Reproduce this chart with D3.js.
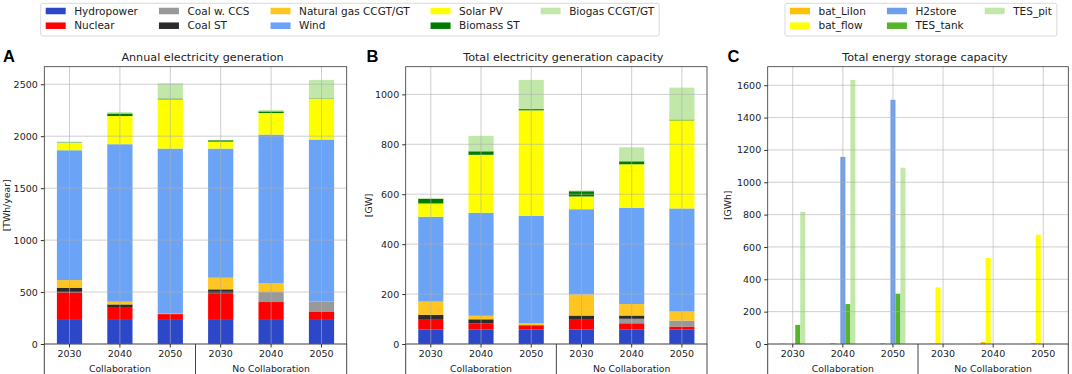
<!DOCTYPE html>
<html>
<head>
<meta charset="utf-8">
<script src="https://cdn.jsdelivr.net/npm/d3@7"></script>
<style>
  body { margin: 0; background: #fff; }
  svg { display: block; font-family: "DejaVu Sans", sans-serif; }
</style>
</head>
<body>
<svg id="chart" width="1072" height="374"></svg>
<script>
// scenarios along the x axis
const years = ["2030", "2040", "2050", "2030", "2040", "2050"];
const groups = ["Collaboration", "No Collaboration"];

const genTechs = ["Hydropower", "Nuclear", "Coal w. CCS", "Coal ST", "Natural gas CCGT/GT", "Wind", "Solar PV", "Biomass ST", "Biogas CCGT/GT"];
const genColors = ["#2c48c8", "#ff0000", "#999999", "#2b2b2b", "#ffc520", "#6ba3f7", "#ffff00", "#007a00", "#c1e8a9"];

// A: annual generation [TWh/year]
const genHydro   = [240, 240, 240, 240, 240, 240];
const genNuclear = [257, 116, 48, 247, 164, 68];
const genCoalCcs = [0, 0, 0, 0, 96, 102];
const genCoalSt  = [45, 25, 0, 39, 0, 0];
const genGas     = [73, 26, 4, 112, 83, 0];
const genWind    = [1250, 1516, 1589, 1243, 1433, 1558];
const genSolar   = [70, 271, 474, 67, 207, 393];
const genBiomass = [5, 25, 8, 13, 16, 4];
const genBiogas  = [8, 13, 147, 4, 13, 177];

// B: generation capacity [GW]
const capHydro   = [59, 59, 59, 59, 59, 59];
const capNuclear = [38, 24, 13, 38, 24, 11];
const capCoalCcs = [0, 0, 0, 0, 18, 24];
const capCoalSt  = [20, 16, 3, 17, 13, 0];
const capGas     = [53, 14, 8, 85, 46, 36];
const capWind    = [340, 413, 430, 341, 386, 413];
const capSolar   = [53, 232, 423, 51, 174, 353];
const capBiomass = [19, 14, 5, 21, 12, 3];
const capBiogas  = [3, 62, 117, 3, 56, 128];

// C: storage capacity [GWh]
const storeNames = ["bat_LiIon", "bat_flow", "H2store", "TES_tank", "TES_pit"];
const storeColors = ["#ffc000", "#ffff00", "#6d9eeb", "#56b42a", "#c1e8a9"];
const batLiIon = [3, 6, 6, 3, 12, 7];
const batFlow  = [0, 0, 0, 350, 532, 676];
const h2store  = [0, 1157, 1510, 0, 0, 0];
const tesTank  = [118, 247, 311, 0, 0, 0];
const tesPit   = [817, 1633, 1090, 0, 0, 0];

const ticksA = [0, 500, 1000, 1500, 2000, 2500];
const ticksB = [0, 200, 400, 600, 800, 1000];
const ticksC = [0, 200, 400, 600, 800, 1000, 1200, 1400, 1600];

const svg = d3.select("#chart");
const plotTop = 66.7, plotBottom = 344;

function panelBase(p) {
  const g = svg.append("g");
  const y = d3.scaleLinear().domain([0, p.ymax * 1.05]).range([plotBottom, plotTop]);
  const x = d3.scaleBand().domain(d3.range(6)).range([p.x0, p.x1]).paddingInner(0).paddingOuter(0);
  return { g, x, y };
}

function panelDecor(p, g, x, y) {
  const cx = i => x(i) + x.bandwidth() / 2;

  // grid drawn over bars, like the reference
  g.append("g").selectAll("line").data(p.ticks).join("line")
    .attr("x1", p.x0).attr("x2", p.x1)
    .attr("y1", d => y(d)).attr("y2", d => y(d))
    .attr("stroke", "#b0b0b0").attr("stroke-width", 0.8).attr("opacity", 0.75);
  g.append("g").selectAll("line").data(d3.range(6)).join("line")
    .attr("x1", cx).attr("x2", cx)
    .attr("y1", plotTop).attr("y2", plotBottom)
    .attr("stroke", "#b0b0b0").attr("stroke-width", 0.8).attr("opacity", 0.75);

  const yAxis = g.append("g").attr("transform", `translate(${p.x0},0)`)
    .call(d3.axisLeft(y).tickValues(p.ticks).tickFormat(d3.format("d")).tickSize(3.5).tickPadding(3));
  yAxis.select(".domain").remove();
  yAxis.selectAll("line").attr("stroke", "#333");
  yAxis.selectAll("text").attr("font-size", 9.5).attr("fill", "#222").attr("font-family", "DejaVu Sans");

  const xAxis = g.append("g").attr("transform", `translate(0,${plotBottom})`)
    .call(d3.axisBottom(x).tickFormat(i => years[i]).tickSize(3.5).tickPadding(3));
  xAxis.select(".domain").remove();
  xAxis.selectAll("line").attr("stroke", "#333");
  xAxis.selectAll("text").attr("font-size", 9.5).attr("fill", "#222").attr("font-family", "DejaVu Sans");

  // group separators and labels
  const sep = [p.x0, (cx(2) + cx(3)) / 2, p.x1];
  g.append("g").selectAll("line").data(sep).join("line")
    .attr("x1", d => d).attr("x2", d => d)
    .attr("y1", plotBottom).attr("y2", 374)
    .attr("stroke", "#444").attr("stroke-width", 1);
  g.append("g").selectAll("text").data(groups).join("text")
    .attr("x", (d, i) => cx(i * 3 + 1)).attr("y", 371.5)
    .attr("text-anchor", "middle").attr("font-size", 9.3).attr("fill", "#222")
    .text(d => d);

  // frame
  g.append("rect")
    .attr("x", p.x0).attr("y", plotTop)
    .attr("width", p.x1 - p.x0).attr("height", plotBottom - plotTop)
    .attr("fill", "none").attr("stroke", "#333").attr("stroke-width", 0.8);

  g.append("text")
    .attr("x", (p.x0 + p.x1) / 2 + 7).attr("y", 61)
    .attr("text-anchor", "middle").attr("font-size", 11.2).attr("fill", "#222")
    .text(p.title);

  g.append("text")
    .attr("transform", `translate(${p.ylabelX},${(plotTop + plotBottom) / 2}) rotate(-90)`)
    .attr("text-anchor", "middle").attr("dominant-baseline", "central")
    .attr("font-size", 9.3).attr("fill", "#222")
    .text(p.ylabel);

  g.append("text")
    .attr("x", p.letterX).attr("y", 62)
    .attr("font-family", "Liberation Sans, Arial, sans-serif")
    .attr("font-weight", "bold").attr("font-size", 16.5).attr("fill", "#000")
    .text(p.letter);
}

function stackedPanel(p) {
  const { g, x, y } = panelBase(p);
  const rows = d3.range(6).map(i => {
    const r = { i };
    genTechs.forEach((t, k) => { r[t] = p.series[k][i]; });
    return r;
  });
  const stacked = d3.stack().keys(genTechs)(rows);
  const inner = d3.scaleBand().domain(d3.range(6)).range([p.x0, p.x1]).paddingInner(0.5).paddingOuter(0.25);

  g.append("g").selectAll("g").data(stacked).join("g")
    .attr("fill", (d, k) => genColors[k])
    .selectAll("rect").data(d => d).join("rect")
    .attr("x", d => inner(d.data.i))
    .attr("width", inner.bandwidth())
    .attr("y", d => y(d[1]))
    .attr("height", d => y(d[0]) - y(d[1]));

  panelDecor(p, g, x, y);
}

function groupedPanel(p) {
  const { g, x, y } = panelBase(p);
  const sub = d3.scaleBand().domain(d3.range(storeNames.length))
    .range([x.bandwidth() * 0.25, x.bandwidth() * 0.75]);

  g.append("g").selectAll("g").data(p.series).join("g")
    .attr("fill", (d, k) => storeColors[k])
    .each(function (vals, k) {
      d3.select(this).selectAll("rect").data(vals).join("rect")
        .attr("x", (v, i) => x(i) + sub(k))
        .attr("width", sub.bandwidth())
        .attr("y", v => y(v))
        .attr("height", v => plotBottom - y(v));
    });

  panelDecor(p, g, x, y);
}

stackedPanel({
  x0: 44.3, x1: 346.7, letter: "A", letterX: 3, ylabelX: 6.5,
  title: "Annual electricity generation", ylabel: "[TWh/year]",
  ticks: ticksA,
  series: [genHydro, genNuclear, genCoalCcs, genCoalSt, genGas, genWind, genSolar, genBiomass, genBiogas],
  ymax: d3.max(d3.range(6), i => genHydro[i] + genNuclear[i] + genCoalCcs[i] + genCoalSt[i] + genGas[i] + genWind[i] + genSolar[i] + genBiomass[i] + genBiogas[i])
});

stackedPanel({
  x0: 405.7, x1: 707, letter: "B", letterX: 366.5, ylabelX: 368,
  title: "Total electricity generation capacity", ylabel: "[GW]",
  ticks: ticksB,
  series: [capHydro, capNuclear, capCoalCcs, capCoalSt, capGas, capWind, capSolar, capBiomass, capBiogas],
  ymax: d3.max(d3.range(6), i => capHydro[i] + capNuclear[i] + capCoalCcs[i] + capCoalSt[i] + capGas[i] + capWind[i] + capSolar[i] + capBiomass[i] + capBiogas[i])
});

groupedPanel({
  x0: 767.7, x1: 1068.3, letter: "C", letterX: 727.5, ylabelX: 727,
  title: "Total energy storage capacity", ylabel: "[GWh]",
  ticks: ticksC,
  series: [batLiIon, batFlow, h2store, tesTank, tesPit],
  ymax: d3.max([batLiIon, batFlow, h2store, tesTank, tesPit].flat())
});

// legends, laid out column by column like matplotlib (ncol given)
function legend(names, colors, ncol, x0, fontSize) {
  const g = svg.append("g");
  const pad = 5, handle = 20, textPad = 8.5, colGap = 21, rowY = [11, 25.7];
  const nrow = Math.ceil(names.length / ncol);
  const items = g.selectAll("g").data(names).join("g");
  items.append("rect").attr("width", handle).attr("height", 6.5).attr("y", -3.25)
    .attr("fill", (d, i) => colors[i]);
  items.append("text").attr("x", handle + textPad).attr("dy", "0.35em")
    .attr("font-size", fontSize).attr("fill", "#222").text(d => d);

  let cx = x0 + pad;
  for (let c = 0; c < ncol; c++) {
    let w = 0;
    items.filter((d, i) => Math.floor(i / nrow) === c).each(function () {
      w = Math.max(w, d3.select(this).select("text").node().getComputedTextLength());
    });
    const colX = cx;
    items.filter((d, i) => Math.floor(i / nrow) === c)
      .attr("transform", d => `translate(${colX},${rowY[names.indexOf(d) % nrow]})`);
    cx += handle + textPad + w + colGap;
  }
  const right = cx - colGap + pad;
  g.insert("rect", ":first-child")
    .attr("x", x0).attr("y", 3.3).attr("width", right - x0).attr("height", 32.7)
    .attr("rx", 2).attr("fill", "#fff").attr("stroke", "#d0d0d0").attr("stroke-width", 0.8);
}

legend(genTechs, genColors, 5, 40.7, 10.5);
legend(storeNames, storeColors, 3, 785, 10.5);
</script>
</body>
</html>
